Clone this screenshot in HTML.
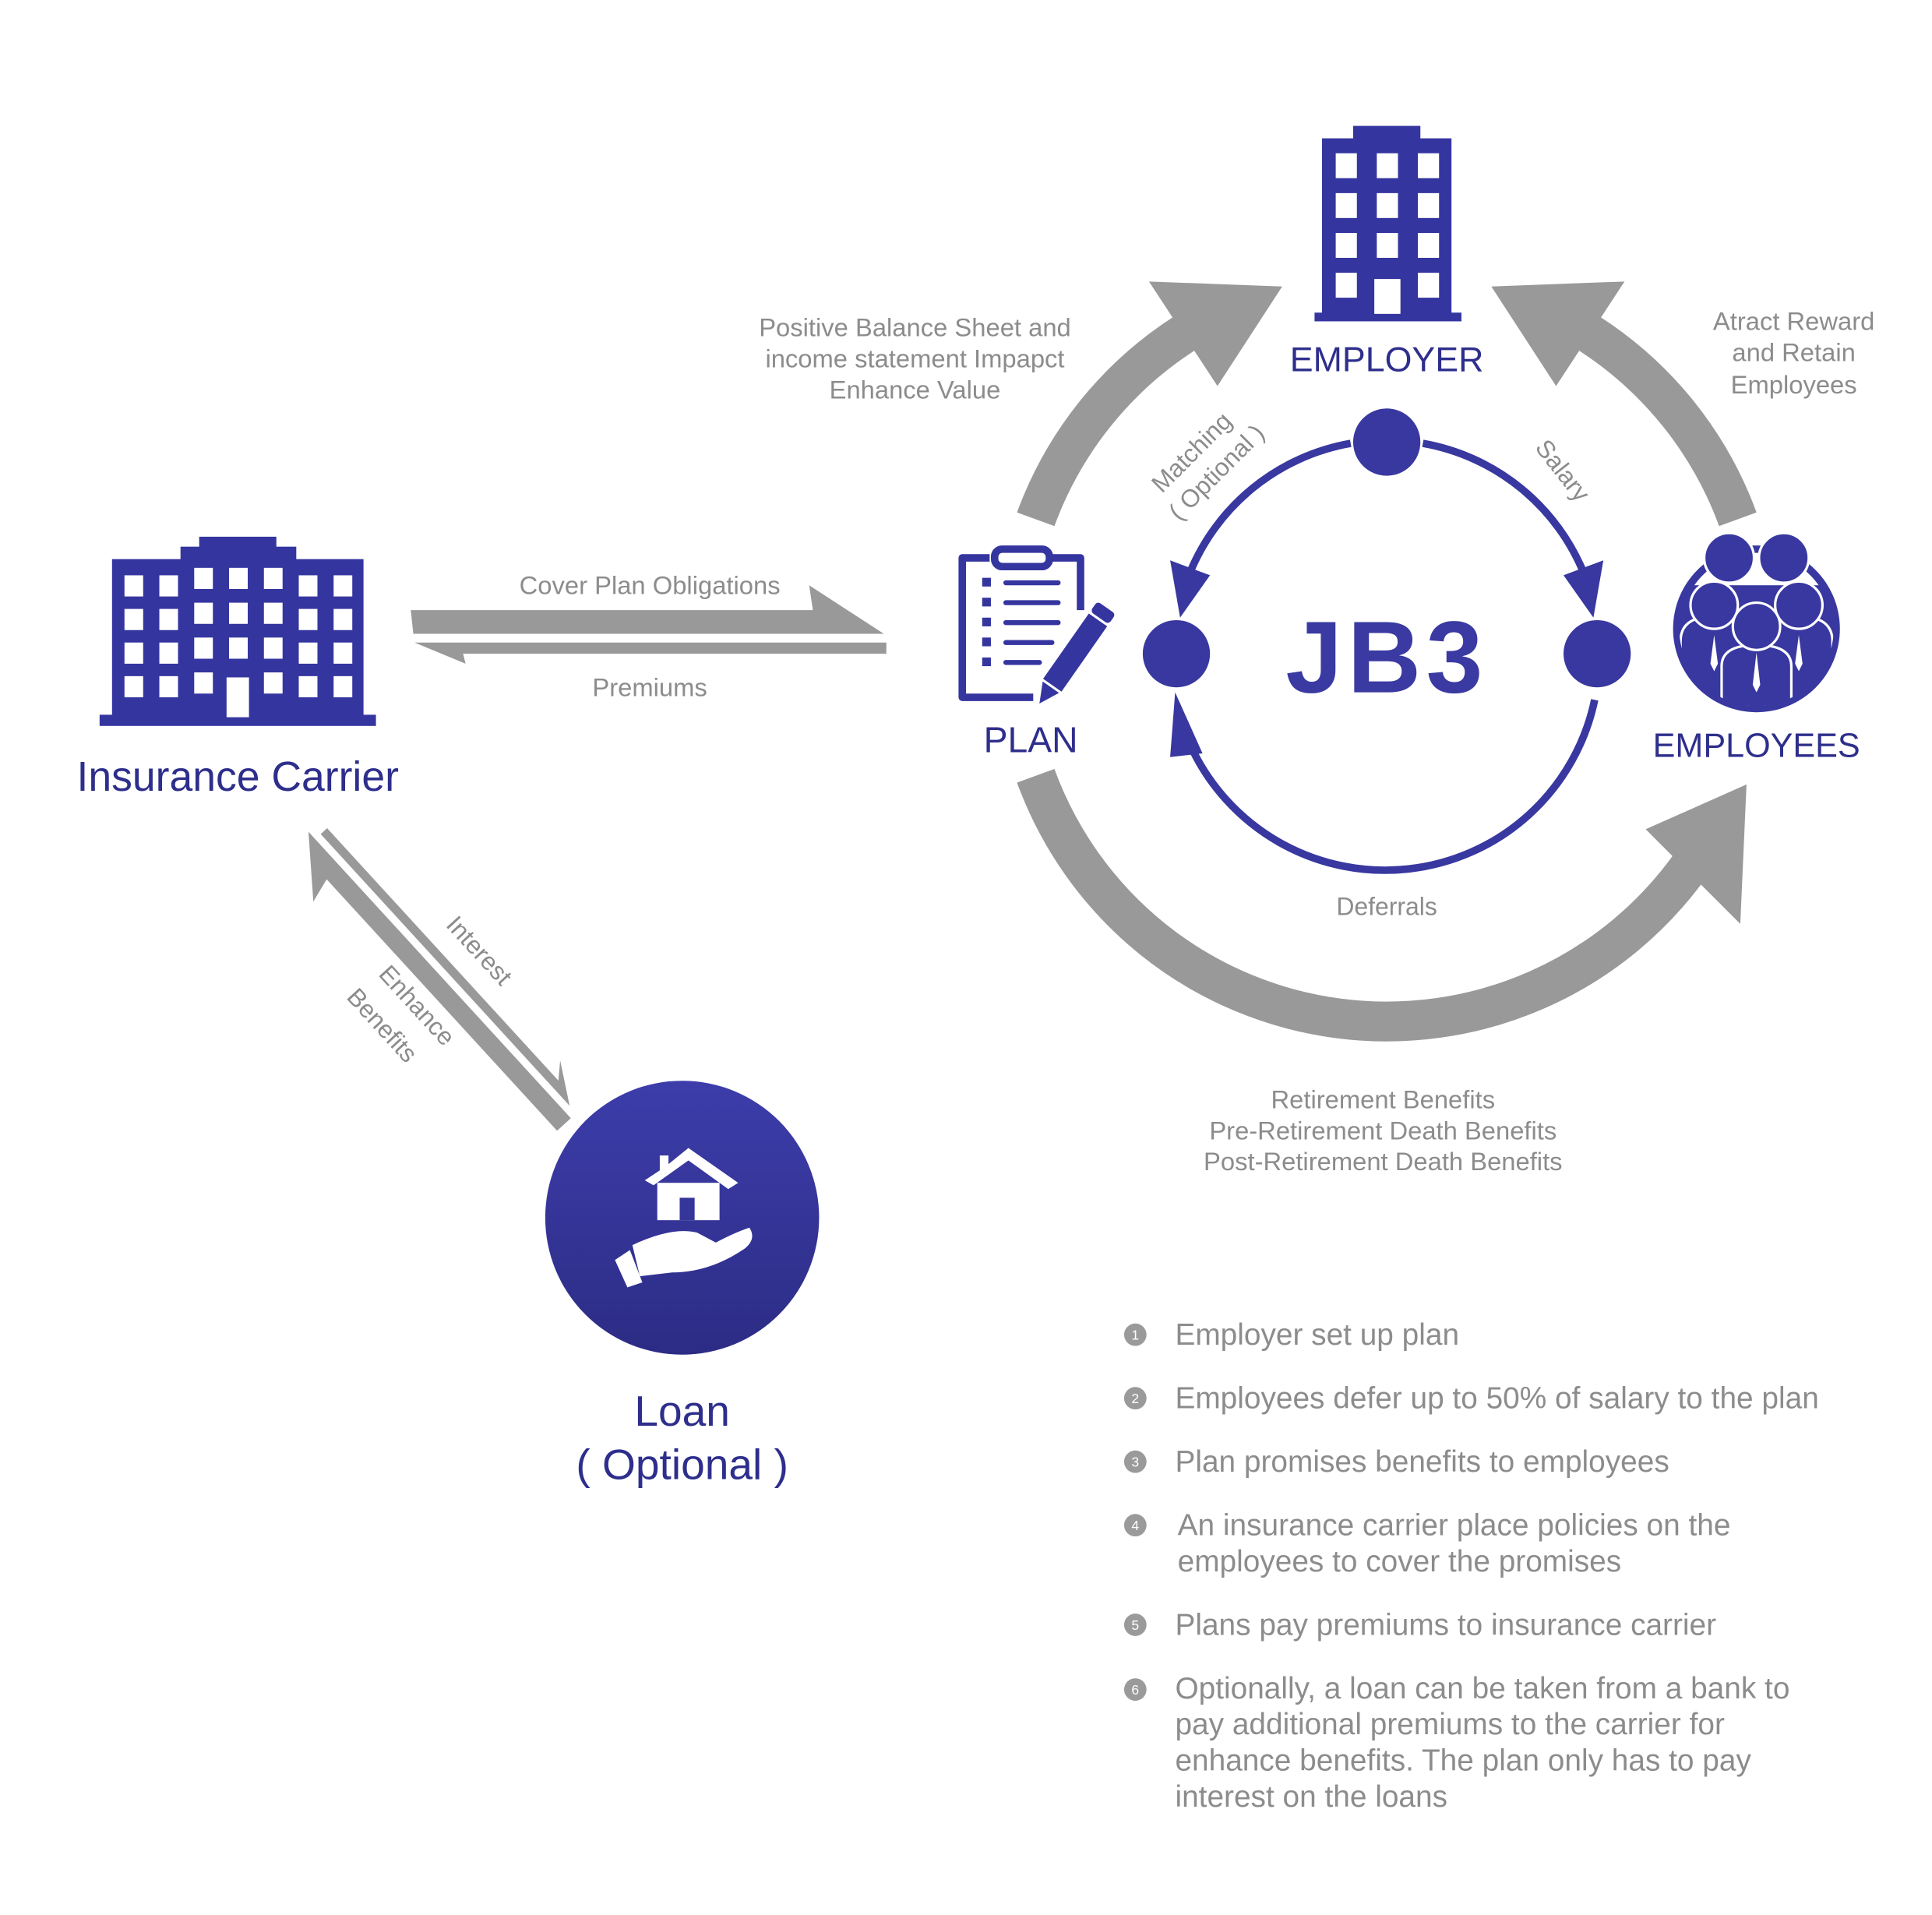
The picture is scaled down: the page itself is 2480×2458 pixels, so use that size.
<!DOCTYPE html>
<html><head><meta charset="utf-8"><style>
html,body{margin:0;padding:0;background:#fff}
svg{display:block}
text{font-family:"Liberation Sans",sans-serif}
.g{fill:#8c8c8c}
.b{fill:#2e2e8c}
</style></head><body>
<svg width="2480" height="2458" viewBox="0 0 1552 1538" xmlns="http://www.w3.org/2000/svg">
<defs>
<linearGradient id="lg" x1="0" y1="0" x2="0" y2="1"><stop offset="0" stop-color="#3d3dab"/><stop offset="1" stop-color="#2c2c85"/></linearGradient>
<clipPath id="ec"><circle cx="1411" cy="505" r="62"/></clipPath>
</defs>
<rect width="1552" height="1538" fill="#fff"/>

<!-- gray big arcs -->
<g fill="none" stroke="#999" stroke-width="32">
<path d="M832 417 A300 300 0 0 1 951 268"/>
<path d="M1396 417 A300 300 0 0 0 1277 268"/>
<path d="M832 623 A300 300 0 0 0 1360 692"/>
</g>
<g fill="#999">
<polygon points="923,226 1030,230 978,310"/>
<polygon points="1305,226 1198,230 1250,310"/>
<polygon points="1322,666 1403,630 1398,742"/>
</g>

<!-- employer building -->
<g fill="#3535a0">
<rect x="1087" y="101" width="54" height="12"/>
<rect x="1062" y="111" width="104" height="142"/>
<rect x="1056" y="251" width="118" height="7"/>
</g>
<g fill="#fff">
<rect x="1073" y="123" width="17" height="20"/><rect x="1106" y="123" width="17" height="20"/><rect x="1139" y="123" width="17" height="20"/>
<rect x="1073" y="155" width="17" height="20"/><rect x="1106" y="155" width="17" height="20"/><rect x="1139" y="155" width="17" height="20"/>
<rect x="1073" y="187" width="17" height="20"/><rect x="1106" y="187" width="17" height="20"/><rect x="1139" y="187" width="17" height="20"/>
<rect x="1073" y="219" width="17" height="20"/><rect x="1104" y="224" width="21" height="28"/><rect x="1139" y="219" width="17" height="20"/>
</g>
<text x="1114" y="298" text-anchor="middle" class="b" font-size="28">EMPLOYER</text>

<!-- inner ring -->
<g fill="none" stroke="#3838a0" stroke-width="6">
<path d="M1085 356 A172 172 0 0 0 955 462"/>
<path d="M1143 356 A172 172 0 0 1 1273 462"/>
<path d="M1281 562 A172 172 0 0 1 956 598"/>
</g>
<g fill="#3838a0">
<polygon points="948,496 940,450 972,462"/>
<polygon points="1280,496 1288,450 1256,462"/>
<polygon points="944,556 966,605 940,608"/>
<circle cx="1114" cy="355" r="27"/>
<circle cx="945" cy="525" r="27"/>
<circle cx="1283" cy="525" r="27"/>
</g>
<text x="1114" y="556" text-anchor="middle" fill="#3a3aa2" font-size="82" font-weight="bold" letter-spacing="4">JB3</text>

<text transform="translate(962,368) rotate(-45)" text-anchor="middle" class="g" font-size="20">Matching</text>
<text transform="translate(982,384) rotate(-45)" text-anchor="middle" class="g" font-size="20">( Optional )</text>
<text transform="translate(1250,382) rotate(52)" text-anchor="middle" class="g" font-size="20">Salary</text>
<text x="1114" y="735" text-anchor="middle" class="g" font-size="20">Deferrals</text>

<text x="735" y="270" text-anchor="middle" class="g" font-size="20.5">Positive Balance Sheet and</text>
<text x="735" y="295" text-anchor="middle" class="g" font-size="20.5">income statement Impapct</text>
<text x="735" y="320" text-anchor="middle" class="g" font-size="20.5">Enhance Value</text>
<text x="1441" y="265" text-anchor="middle" class="g" font-size="20.5">Atract Reward</text>
<text x="1441" y="290" text-anchor="middle" class="g" font-size="20.5">and Retain</text>
<text x="1441" y="316" text-anchor="middle" class="g" font-size="20.5">Employees</text>

<text x="1111" y="890" text-anchor="middle" class="g" font-size="20.5">Retirement Benefits</text>
<text x="1111" y="915" text-anchor="middle" class="g" font-size="20.5">Pre-Retirement Death Benefits</text>
<text x="1111" y="940" text-anchor="middle" class="g" font-size="20.5">Post-Retirement Death Benefits</text>

<!-- plan icon -->
<g fill="none" stroke="#3535a0" stroke-width="6" stroke-linejoin="round">
<path d="M795 448 H773 V560 H830"/>
<path d="M845 448 H868 V490"/>
<rect x="799" y="441" width="44" height="14" rx="6"/>
</g>
<g stroke="#3535a0" stroke-width="4" stroke-linecap="round">
<line x1="808" y1="468" x2="850" y2="468"/><line x1="808" y1="484" x2="850" y2="484"/><line x1="808" y1="500" x2="850" y2="500"/><line x1="808" y1="516" x2="845" y2="516"/><line x1="808" y1="532" x2="835" y2="532"/>
</g>
<g fill="#3535a0"><rect x="789" y="464" width="7" height="7"/><rect x="789" y="480" width="7" height="7"/><rect x="789" y="496" width="7" height="7"/><rect x="789" y="512" width="7" height="7"/><rect x="789" y="528" width="7" height="7"/></g>
<g transform="translate(835,565) rotate(35)" fill="#3535a0">
<polygon points="0,0 -8,-16 8,-16"/>
<rect x="-9" y="-82" width="18" height="64"/>
<rect x="-9" y="-94" width="18" height="10" rx="3"/>
</g>
<text x="828" y="604" text-anchor="middle" class="b" font-size="29">PLAN</text>

<!-- employees icon -->
<circle cx="1411" cy="505" r="67" fill="#3838a0"/>
<circle cx="1411" cy="505" r="61" fill="#fff"/>
<g fill="#3838a0" stroke="#fff" stroke-width="2">
<circle cx="1389" cy="448" r="20"/><circle cx="1433" cy="448" r="20"/>
<g clip-path="url(#ec)">
<rect x="1340" y="470" width="142" height="100" fill="#3838a0" stroke="none"/>
<path d="M1350 575 V515 Q1350 495 1377 495 Q1404 495 1404 515 V575Z"/>
<path d="M1418 575 V515 Q1418 495 1445 495 Q1472 495 1472 515 V575Z"/>
<path d="M1383 575 V535 Q1383 518 1411 518 Q1439 518 1439 535 V575Z"/>
</g>
<circle cx="1377" cy="486" r="19"/><circle cx="1445" cy="486" r="19"/>
<circle cx="1411" cy="503" r="19"/>
</g>
<path d="M1411 524 L1414 550 L1411 556 L1408 550Z M1377 510 L1380 533 L1377 539 L1374 533Z M1445 510 L1448 533 L1445 539 L1442 533Z" fill="#fff"/>
<text x="1411" y="608" text-anchor="middle" class="b" font-size="27">EMPLOYEES</text>

<!-- insurance carrier -->
<g fill="#3535a0">
<rect x="160" y="431" width="62" height="10"/>
<rect x="145" y="439" width="93" height="14"/>
<rect x="90" y="449" width="202" height="128"/>
<rect x="80" y="574" width="222" height="9"/>
</g>
<g fill="#fff">
<rect x="100" y="462" width="15" height="17"/><rect x="128" y="462" width="15" height="17"/><rect x="156" y="456" width="15" height="17"/><rect x="184" y="456" width="15" height="17"/><rect x="212" y="456" width="15" height="17"/><rect x="240" y="462" width="15" height="17"/><rect x="268" y="462" width="15" height="17"/>
<rect x="100" y="489" width="15" height="17"/><rect x="128" y="489" width="15" height="17"/><rect x="156" y="484" width="15" height="17"/><rect x="184" y="484" width="15" height="17"/><rect x="212" y="484" width="15" height="17"/><rect x="240" y="489" width="15" height="17"/><rect x="268" y="489" width="15" height="17"/>
<rect x="100" y="516" width="15" height="17"/><rect x="128" y="516" width="15" height="17"/><rect x="156" y="512" width="15" height="17"/><rect x="184" y="512" width="15" height="17"/><rect x="212" y="512" width="15" height="17"/><rect x="240" y="516" width="15" height="17"/><rect x="268" y="516" width="15" height="17"/>
<rect x="100" y="543" width="15" height="17"/><rect x="128" y="543" width="15" height="17"/><rect x="156" y="540" width="15" height="17"/><rect x="212" y="540" width="15" height="17"/><rect x="240" y="543" width="15" height="17"/><rect x="268" y="543" width="15" height="17"/>
<rect x="182" y="544" width="18" height="32"/>
</g>
<text x="191" y="635" text-anchor="middle" class="b" font-size="33.5">Insurance Carrier</text>

<!-- horizontal arrows -->
<g fill="#999">
<polygon points="330,490 653,490 650,470 710,509 332,509"/>
<polygon points="712,516 712,525 372,525 374,533 333,516"/>
</g>
<text x="522" y="477" text-anchor="middle" class="g" font-size="20.5">Cover Plan Obligations</text>
<text x="522" y="559" text-anchor="middle" class="g" font-size="20.5">Premiums</text>

<!-- diagonal arrows -->
<g transform="translate(250,666) rotate(47.5)" fill="#999">
<polygon points="8,-10 283,-10 272,-22 304,-3 8,-3"/>
<polygon points="0,3 44,38 38,18 312,18 312,3"/>
</g>
<text transform="translate(380,768) rotate(47.5)" text-anchor="middle" class="g" font-size="20">Interest</text>
<text transform="translate(330,812) rotate(47.5)" text-anchor="middle" class="g" font-size="20">Enhance</text>
<text transform="translate(302,828) rotate(47.5)" text-anchor="middle" class="g" font-size="20">Benefits</text>

<!-- loan -->
<circle cx="548" cy="978" r="110" fill="url(#lg)"/>
<g fill="#fff">
<polygon points="553,922 593,950 585,955 553,932 525,952 518,948 530,940 530,928 537,928 537,935"/>
<rect x="528" y="950" width="50" height="30"/>
<rect x="546" y="962" width="12" height="18" fill="#35359a"/>
<path d="M508 1000 Q540 985 560 990 L575 998 Q590 990 602 986 Q608 995 598 1003 Q570 1022 540 1022 L514 1025 Z"/>
<polygon points="494,1012 506,1004 516,1030 504,1034"/>
</g>
<text x="548" y="1145" text-anchor="middle" class="b" font-size="34.5">Loan</text>
<text x="548" y="1188" text-anchor="middle" class="b" font-size="34.5">( Optional )</text>

<!-- list -->
<g fill="#9a9a9a">
<circle cx="912" cy="1072" r="9"/><circle cx="912" cy="1123" r="9"/><circle cx="912" cy="1174" r="9"/><circle cx="912" cy="1225" r="9"/><circle cx="912" cy="1305" r="9"/><circle cx="912" cy="1357" r="9"/>
</g>
<g fill="#fff" font-size="11" text-anchor="middle">
<text x="912" y="1076">1</text><text x="912" y="1127">2</text><text x="912" y="1178">3</text><text x="912" y="1229">4</text><text x="912" y="1309">5</text><text x="912" y="1361">6</text>
</g>
<g class="g" font-size="24.3">
<text x="944" y="1080">Employer set up plan</text>
<text x="944" y="1131">Employees defer up to 50% of salary to the plan</text>
<text x="944" y="1182">Plan promises benefits to employees</text>
<text x="946" y="1233">An insurance carrier place policies on the</text>
<text x="946" y="1262">employees to cover the promises</text>
<text x="944" y="1313">Plans pay premiums to insurance carrier</text>
<text x="944" y="1364">Optionally, a loan can be taken from a bank to</text>
<text x="944" y="1393">pay additional premiums to the carrier for</text>
<text x="944" y="1422">enhance benefits. The plan only has to pay</text>
<text x="944" y="1451">interest on the loans</text>
</g>
</svg>
</body></html>
